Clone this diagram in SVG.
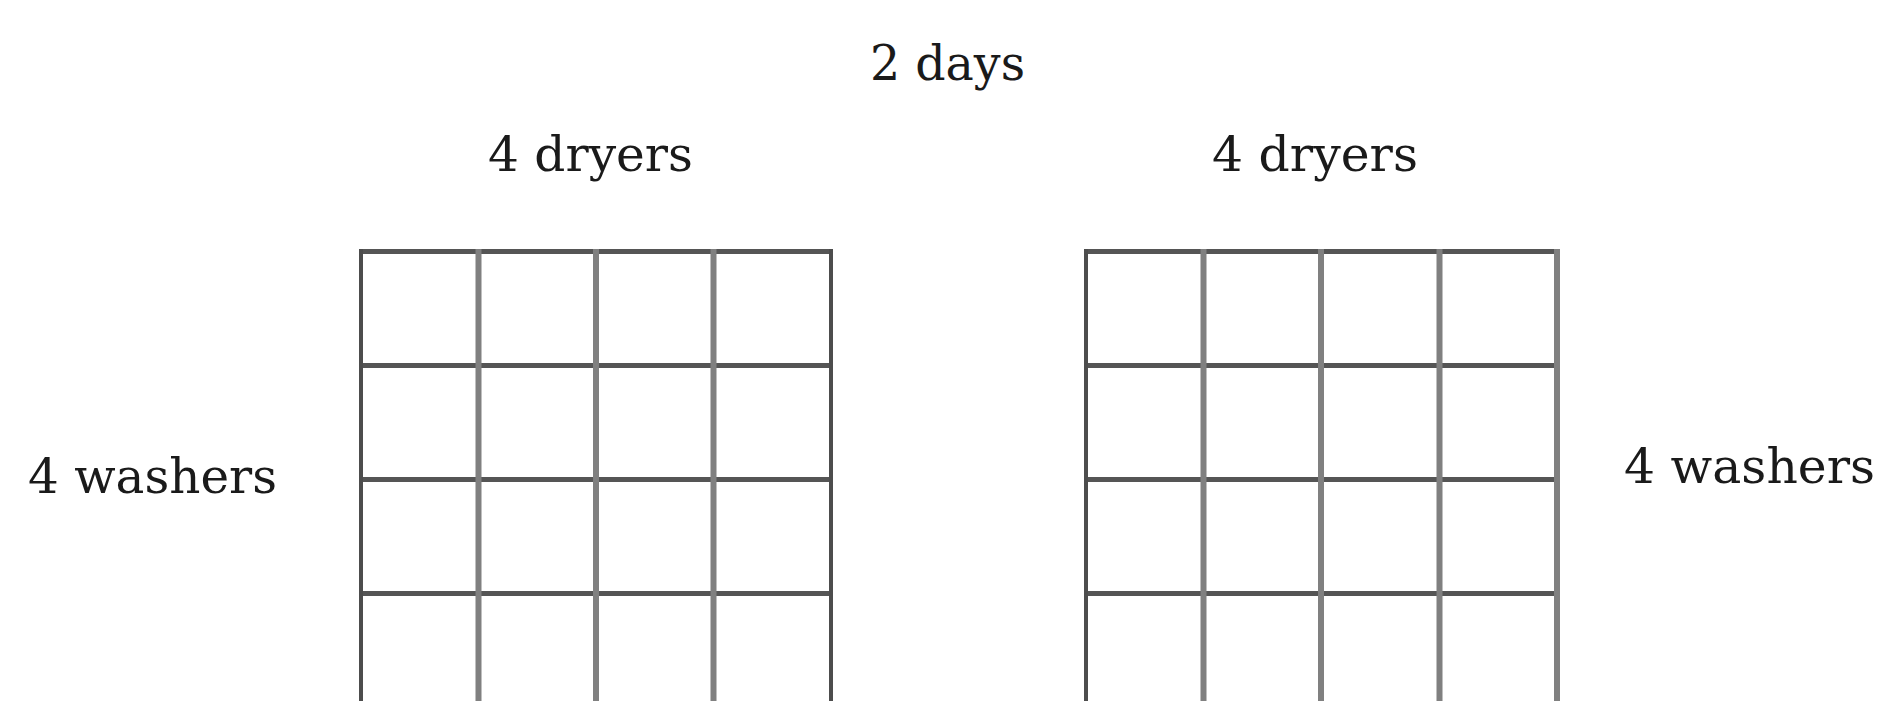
<svg xmlns="http://www.w3.org/2000/svg" width="1878" height="701" viewBox="0 0 1878 701">
<style>
.lbl{font-family:"DejaVu Serif","Liberation Serif",serif;font-size:48px;fill:#1a1a1a}
.h{stroke:#555;stroke-width:5;fill:none}
.vb{stroke:#4d4d4d;stroke-width:4;fill:none}
.vi{stroke:#808080;stroke-width:6;fill:none}
</style>
<rect width="1878" height="701" fill="#fff"/>
<g id="label-days"><text class="lbl" x="870" y="80" textLength="155" lengthAdjust="spacingAndGlyphs">2 days</text></g>
<g id="label-dryers-left"><text class="lbl" x="488" y="171" textLength="205" lengthAdjust="spacingAndGlyphs">4 dryers</text></g>
<g id="label-dryers-right"><text class="lbl" x="1212" y="171" textLength="206" lengthAdjust="spacingAndGlyphs">4 dryers</text></g>
<g id="label-washers-left"><text class="lbl" x="28" y="493" textLength="249" lengthAdjust="spacingAndGlyphs">4 washers</text></g>
<g id="label-washers-right"><text class="lbl" x="1624" y="483" textLength="251" lengthAdjust="spacingAndGlyphs">4 washers</text></g>
<g id="grid-left">
<line class="h" x1="359" y1="251.5" x2="833" y2="251.5"/>
<line class="h" x1="359" y1="365.5" x2="833" y2="365.5"/>
<line class="h" x1="359" y1="479.5" x2="833" y2="479.5"/>
<line class="h" x1="359" y1="593.5" x2="833" y2="593.5"/>
<line class="vb" x1="361" y1="249" x2="361" y2="701"/>
<line class="vi" x1="478.5" y1="249" x2="478.5" y2="701"/>
<line class="vi" x1="596" y1="249" x2="596" y2="701"/>
<line class="vi" x1="713.5" y1="249" x2="713.5" y2="701"/>
<line class="vb" x1="831" y1="249" x2="831" y2="701"/>
</g>
<g id="grid-right">
<line class="h" x1="1084" y1="251.5" x2="1560" y2="251.5"/>
<line class="h" x1="1084" y1="365.5" x2="1560" y2="365.5"/>
<line class="h" x1="1084" y1="479.5" x2="1560" y2="479.5"/>
<line class="h" x1="1084" y1="593.5" x2="1560" y2="593.5"/>
<line class="vb" x1="1086" y1="249" x2="1086" y2="701"/>
<line class="vi" x1="1203.5" y1="249" x2="1203.5" y2="701"/>
<line class="vi" x1="1321" y1="249" x2="1321" y2="701"/>
<line class="vi" x1="1439.5" y1="249" x2="1439.5" y2="701"/>
<line class="vi" x1="1557" y1="249" x2="1557" y2="701"/>
</g>
<g id="connectors"></g>
</svg>
